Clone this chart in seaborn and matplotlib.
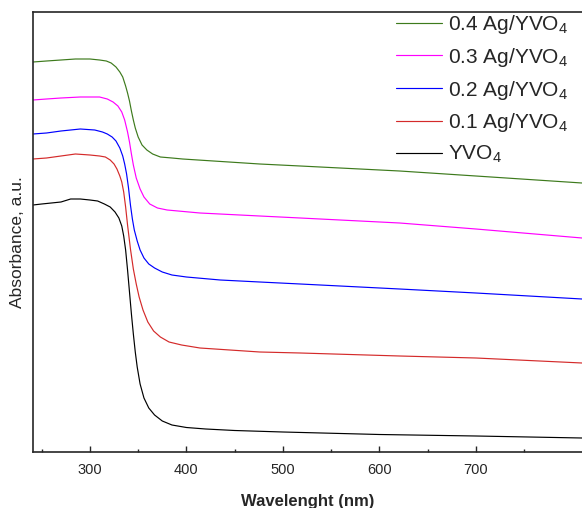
import matplotlib
matplotlib.use("Agg")
import matplotlib.pyplot as plt
from matplotlib.ticker import FixedLocator, NullLocator
import pandas as pd
import seaborn as sns

# ── Data (arbitrary absorbance units) ────────────────────────────────────────
wl_yvo4 = [241, 250, 260, 270, 280, 290, 300, 308, 315, 321, 326, 330, 333,
           335, 337, 339, 341, 343, 345, 347, 349, 352, 356, 361, 367, 375,
           385, 400, 420, 450, 500, 600, 700, 810]
abs_yvo4 = [2.47, 2.48, 2.49, 2.50, 2.53, 2.53, 2.52, 2.51, 2.48, 2.45, 2.40,
            2.34, 2.26, 2.16, 2.02, 1.82, 1.60, 1.38, 1.18, 1.00, 0.85, 0.68,
            0.54, 0.44, 0.37, 0.31, 0.27, 0.245, 0.23, 0.215, 0.20, 0.175,
            0.16, 0.14]

wl_01 = [241, 255, 270, 285, 300, 310, 316, 321, 325, 328, 331, 333, 335,
         337, 339, 342, 345, 348, 351, 355, 360, 366, 373, 382, 395, 414,
         476, 518, 621, 700, 810]
abs_01 = [2.93, 2.94, 2.96, 2.98, 2.97, 2.96, 2.95, 2.92, 2.88, 2.83, 2.76,
          2.70, 2.60, 2.45, 2.27, 2.03, 1.83, 1.68, 1.55, 1.42, 1.30, 1.21,
          1.15, 1.10, 1.07, 1.04, 1.00, 0.99, 0.96, 0.94, 0.89]

wl_02 = [241, 255, 270, 290, 305, 313, 318, 323, 327, 331, 334, 336, 338,
         340, 342, 344, 346, 349, 352, 356, 361, 367, 375, 385, 400, 435,
         476, 518, 621, 700, 810]
abs_02 = [3.18, 3.19, 3.21, 3.23, 3.22, 3.20, 3.18, 3.15, 3.11, 3.04, 2.96,
          2.88, 2.78, 2.64, 2.47, 2.33, 2.22, 2.11, 2.02, 1.94, 1.88, 1.84,
          1.80, 1.77, 1.75, 1.72, 1.70, 1.68, 1.63, 1.59, 1.53]

wl_03 = [241, 255, 270, 290, 310, 318, 324, 329, 333, 336, 339, 341, 343,
         345, 348, 352, 356, 362, 370, 380, 414, 476, 518, 621, 700, 810]
abs_03 = [3.52, 3.53, 3.54, 3.55, 3.55, 3.53, 3.50, 3.46, 3.40, 3.32, 3.20,
          3.10, 2.98, 2.87, 2.74, 2.63, 2.55, 2.48, 2.44, 2.42, 2.39, 2.36,
          2.34, 2.29, 2.23, 2.14]

wl_04 = [241, 255, 270, 285, 300, 310, 317, 322, 327, 331, 334, 337, 339,
         341, 343, 345, 347, 350, 354, 359, 365, 373, 385, 396, 476, 518,
         621, 700, 810]
abs_04 = [3.90, 3.91, 3.92, 3.93, 3.93, 3.92, 3.91, 3.89, 3.85, 3.80, 3.75,
          3.66, 3.59, 3.51, 3.41, 3.32, 3.24, 3.15, 3.07, 3.02, 2.98, 2.95,
          2.94, 2.93, 2.88, 2.86, 2.81, 2.76, 2.69]

labels = ["0.4 Ag/YVO$_4$", "0.3 Ag/YVO$_4$", "0.2 Ag/YVO$_4$",
          "0.1 Ag/YVO$_4$", "YVO$_4$"]
colors = ["#3d7a1c", "#ff00ff", "#0000ff", "#d42a2a", "#000000"]

major_ticks = [300, 400, 500, 600, 700]
minor_ticks = [250, 350, 450, 550, 650, 750]

# ── Long-form table for seaborn ──────────────────────────────────────────────
series = [(wl_04, abs_04), (wl_03, abs_03), (wl_02, abs_02),
          (wl_01, abs_01), (wl_yvo4, abs_yvo4)]
frames = []
for lab, (wl, ab) in zip(labels, series):
    frames.append(pd.DataFrame({"wl": wl, "abs": ab, "sample": lab}))
df = pd.concat(frames, ignore_index=True)

# ── Plot ─────────────────────────────────────────────────────────────────────
sns.set_style("ticks")
plt.rcParams["font.family"] = ["Liberation Sans", "DejaVu Sans"]
plt.rcParams["mathtext.fontset"] = "custom"
plt.rcParams["mathtext.rm"] = "Liberation Sans"
plt.rcParams["mathtext.it"] = "Liberation Sans"

fig = plt.figure(figsize=(5.82, 5.08), dpi=100)
ax = fig.add_axes([33 / 582, 56 / 508, 549 / 582, 440 / 508])

sns.lineplot(data=df, x="wl", y="abs", hue="sample", hue_order=labels,
             palette=dict(zip(labels, colors)), sort=False, estimator=None,
             linewidth=0.85, ax=ax)

ax.set_xlim(241, 810)
ax.set_ylim(0, 4.40)
ax.xaxis.set_major_locator(FixedLocator(major_ticks))
ax.xaxis.set_minor_locator(FixedLocator(minor_ticks))
ax.yaxis.set_major_locator(NullLocator())
ax.tick_params(axis="x", which="major", direction="in", length=4.5,
               width=1.0, labelsize=10.5, pad=8)
ax.tick_params(axis="x", which="minor", direction="in", length=2.5,
               width=1.0)
for side in ["left", "bottom", "top"]:
    ax.spines[side].set_linewidth(1.2)
ax.spines["right"].set_visible(False)

ax.set_xlabel("Wavelenght (nm)", fontsize=12, fontweight="bold", labelpad=12)
ax.set_ylabel("Absorbance, a.u.", fontsize=12.5)
ax.yaxis.set_label_coords(-0.015, 0.477)

ax.legend(loc="upper right", bbox_to_anchor=(568 / 582, 495 / 508),
          bbox_transform=fig.transFigure, frameon=False, fontsize=15,
          handlelength=2.2, handletextpad=0.3, labelspacing=0.47,
          borderpad=0, borderaxespad=0)

fig.savefig("out.png", dpi=100)
